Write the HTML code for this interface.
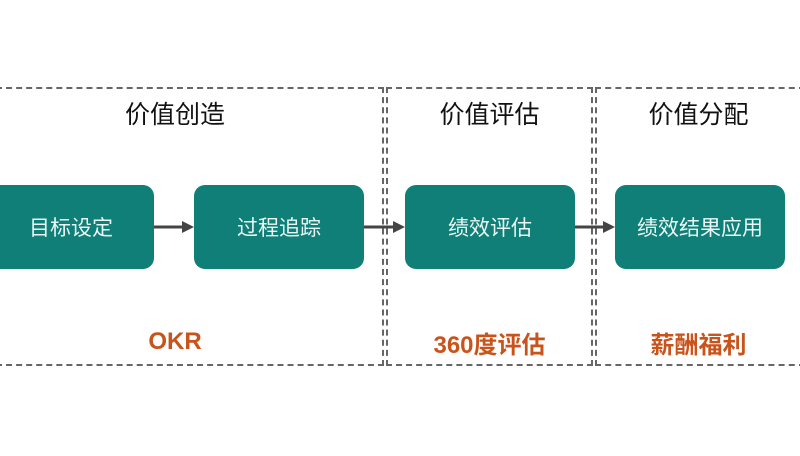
<!DOCTYPE html>
<html><head><meta charset="utf-8"><style>
body{margin:0;width:800px;height:456px;background:#fff;overflow:hidden;position:relative;font-family:"Liberation Sans","Noto Sans CJK SC",sans-serif}
.box{position:absolute;top:87px;height:279px;border:2px dashed #666;box-sizing:border-box}
.t{position:absolute;top:95px;font-size:25px;color:#111;text-align:center}
.n{position:absolute;top:185px;height:84px;background:#0f7f77;border-radius:11px;color:#eaf7f5;font-size:21px;display:flex;align-items:center;justify-content:center}
.o{position:absolute;top:325px;font-size:24px;font-weight:bold;color:#c8541c;text-align:center}
</style></head><body>
<div class="box" style="left:-4px;width:388px"></div>
<div class="box" style="left:386px;width:207px"></div>
<div class="box" style="left:595px;width:210px"></div>
<div class="t" style="left:0;width:350px">价值创造</div>
<div class="t" style="left:386px;width:207px">价值评估</div>
<div class="t" style="left:595px;width:207px">价值分配</div>
<div class="n" style="left:-12px;width:166px">目标设定</div>
<div class="n" style="left:194px;width:170px">过程追踪</div>
<div class="n" style="left:405px;width:170px">绩效评估</div>
<div class="n" style="left:615px;width:170px">绩效结果应用</div>
<svg style="position:absolute;left:0;top:0" width="800" height="456">
<g stroke="#444" stroke-width="3" fill="#444">
<line x1="154" y1="227" x2="184" y2="227"/><polygon points="194,227 182,221 182,233" stroke="none"/>
<line x1="364" y1="227" x2="395" y2="227"/><polygon points="405,227 393,221 393,233" stroke="none"/>
<line x1="575" y1="227" x2="605" y2="227"/><polygon points="615,227 603,221 603,233" stroke="none"/>
</g></svg>
<div class="o" style="left:0;width:350px;top:328px">OKR</div>
<div class="o" style="left:386px;width:207px">360度评估</div>
<div class="o" style="left:595px;width:207px">薪酬福利</div>
</body></html>
